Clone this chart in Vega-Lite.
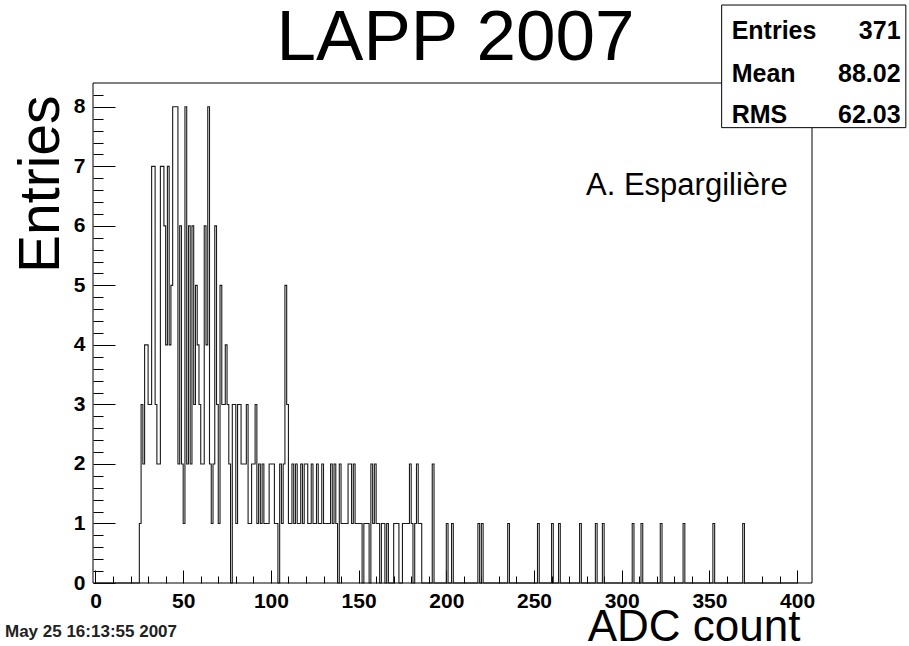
{
  "$schema": "https://vega.github.io/schema/vega-lite/v6.json",
  "width": 719,
  "height": 500,
  "autosize": "none",
  "padding": {"left": 93, "top": 83, "right": 97, "bottom": 63},
  "background": "white",
  "config": {"view": {"stroke": null}, "font": "Liberation Sans"},
  "datasets": {
    "hist": [
      {"adc":0,"n":0},{"adc":1,"n":0},{"adc":2,"n":0},{"adc":3,"n":0},{"adc":4,"n":0},{"adc":5,"n":0},{"adc":6,"n":0},{"adc":7,"n":0},{"adc":8,"n":0},{"adc":9,"n":0},
      {"adc":10,"n":0},{"adc":11,"n":0},{"adc":12,"n":0},{"adc":13,"n":0},{"adc":14,"n":0},{"adc":15,"n":0},{"adc":16,"n":0},{"adc":17,"n":0},{"adc":18,"n":0},{"adc":19,"n":0},
      {"adc":20,"n":0},{"adc":21,"n":0},{"adc":22,"n":0},{"adc":23,"n":0},{"adc":24,"n":0},{"adc":25,"n":1},{"adc":26,"n":3},{"adc":27,"n":2},{"adc":28,"n":4},{"adc":29,"n":4},
      {"adc":30,"n":3},{"adc":31,"n":3},{"adc":32,"n":7},{"adc":33,"n":7},{"adc":34,"n":3},{"adc":35,"n":2},{"adc":36,"n":2},{"adc":37,"n":7},{"adc":38,"n":7},{"adc":39,"n":6},
      {"adc":40,"n":4},{"adc":41,"n":7},{"adc":42,"n":4},{"adc":43,"n":5},{"adc":44,"n":8},{"adc":45,"n":8},{"adc":46,"n":8},{"adc":47,"n":2},{"adc":48,"n":6},{"adc":49,"n":2},
      {"adc":50,"n":1},{"adc":51,"n":8},{"adc":52,"n":2},{"adc":53,"n":6},{"adc":54,"n":2},{"adc":55,"n":6},{"adc":56,"n":3},{"adc":57,"n":5},{"adc":58,"n":4},{"adc":59,"n":3},
      {"adc":60,"n":2},{"adc":61,"n":2},{"adc":62,"n":6},{"adc":63,"n":4},{"adc":64,"n":8},{"adc":65,"n":2},{"adc":66,"n":1},{"adc":67,"n":2},{"adc":68,"n":6},{"adc":69,"n":3},
      {"adc":70,"n":1},{"adc":71,"n":5},{"adc":72,"n":3},{"adc":73,"n":3},{"adc":74,"n":4},{"adc":75,"n":3},{"adc":76,"n":2},{"adc":77,"n":0},{"adc":78,"n":3},{"adc":79,"n":3},
      {"adc":80,"n":1},{"adc":81,"n":3},{"adc":82,"n":3},{"adc":83,"n":2},{"adc":84,"n":2},{"adc":85,"n":2},{"adc":86,"n":3},{"adc":87,"n":1},{"adc":88,"n":1},{"adc":89,"n":2},
      {"adc":90,"n":2},{"adc":91,"n":3},{"adc":92,"n":1},{"adc":93,"n":2},{"adc":94,"n":1},{"adc":95,"n":2},{"adc":96,"n":1},{"adc":97,"n":1},{"adc":98,"n":1},{"adc":99,"n":2},
      {"adc":100,"n":2},{"adc":101,"n":2},{"adc":102,"n":1},{"adc":103,"n":1},{"adc":104,"n":0},{"adc":105,"n":2},{"adc":106,"n":1},{"adc":107,"n":2},{"adc":108,"n":5},{"adc":109,"n":3},
      {"adc":110,"n":1},{"adc":111,"n":1},{"adc":112,"n":2},{"adc":113,"n":1},{"adc":114,"n":2},{"adc":115,"n":1},{"adc":116,"n":1},{"adc":117,"n":2},{"adc":118,"n":1},{"adc":119,"n":2},
      {"adc":120,"n":2},{"adc":121,"n":1},{"adc":122,"n":1},{"adc":123,"n":2},{"adc":124,"n":1},{"adc":125,"n":1},{"adc":126,"n":2},{"adc":127,"n":1},{"adc":128,"n":1},{"adc":129,"n":2},
      {"adc":130,"n":1},{"adc":131,"n":1},{"adc":132,"n":1},{"adc":133,"n":1},{"adc":134,"n":2},{"adc":135,"n":1},{"adc":136,"n":2},{"adc":137,"n":1},{"adc":138,"n":0},{"adc":139,"n":2},
      {"adc":140,"n":1},{"adc":141,"n":1},{"adc":142,"n":1},{"adc":143,"n":1},{"adc":144,"n":2},{"adc":145,"n":2},{"adc":146,"n":1},{"adc":147,"n":2},{"adc":148,"n":1},{"adc":149,"n":1},
      {"adc":150,"n":1},{"adc":151,"n":1},{"adc":152,"n":0},{"adc":153,"n":1},{"adc":154,"n":1},{"adc":155,"n":1},{"adc":156,"n":0},{"adc":157,"n":2},{"adc":158,"n":1},{"adc":159,"n":2},
      {"adc":160,"n":1},{"adc":161,"n":1},{"adc":162,"n":0},{"adc":163,"n":1},{"adc":164,"n":1},{"adc":165,"n":0},{"adc":166,"n":1},{"adc":167,"n":0},{"adc":168,"n":0},{"adc":169,"n":0},
      {"adc":170,"n":1},{"adc":171,"n":1},{"adc":172,"n":1},{"adc":173,"n":0},{"adc":174,"n":0},{"adc":175,"n":1},{"adc":176,"n":1},{"adc":177,"n":1},{"adc":178,"n":1},{"adc":179,"n":2},
      {"adc":180,"n":1},{"adc":181,"n":0},{"adc":182,"n":1},{"adc":183,"n":2},{"adc":184,"n":1},{"adc":185,"n":1},{"adc":186,"n":0},{"adc":187,"n":0},{"adc":188,"n":0},{"adc":189,"n":0},
      {"adc":190,"n":0},{"adc":191,"n":0},{"adc":192,"n":2},{"adc":193,"n":0},{"adc":194,"n":0},{"adc":195,"n":0},{"adc":196,"n":0},{"adc":197,"n":0},{"adc":198,"n":0},{"adc":199,"n":0},
      {"adc":200,"n":1},{"adc":201,"n":0},{"adc":202,"n":0},{"adc":203,"n":1},{"adc":204,"n":0},{"adc":205,"n":0},{"adc":206,"n":0},{"adc":207,"n":0},{"adc":208,"n":0},{"adc":209,"n":0},
      {"adc":210,"n":0},{"adc":211,"n":0},{"adc":212,"n":0},{"adc":213,"n":0},{"adc":214,"n":0},{"adc":215,"n":0},{"adc":216,"n":0},{"adc":217,"n":0},{"adc":218,"n":1},{"adc":219,"n":0},
      {"adc":220,"n":1},{"adc":221,"n":0},{"adc":222,"n":0},{"adc":223,"n":0},{"adc":224,"n":0},{"adc":225,"n":0},{"adc":226,"n":0},{"adc":227,"n":0},{"adc":228,"n":0},{"adc":229,"n":0},
      {"adc":230,"n":0},{"adc":231,"n":0},{"adc":232,"n":0},{"adc":233,"n":0},{"adc":234,"n":0},{"adc":235,"n":1},{"adc":236,"n":0},{"adc":237,"n":0},{"adc":238,"n":0},{"adc":239,"n":0},
      {"adc":240,"n":0},{"adc":241,"n":0},{"adc":242,"n":0},{"adc":243,"n":0},{"adc":244,"n":0},{"adc":245,"n":0},{"adc":246,"n":0},{"adc":247,"n":0},{"adc":248,"n":0},{"adc":249,"n":0},
      {"adc":250,"n":0},{"adc":251,"n":0},{"adc":252,"n":1},{"adc":253,"n":0},{"adc":254,"n":0},{"adc":255,"n":0},{"adc":256,"n":0},{"adc":257,"n":0},{"adc":258,"n":0},{"adc":259,"n":0},
      {"adc":260,"n":1},{"adc":261,"n":0},{"adc":262,"n":0},{"adc":263,"n":0},{"adc":264,"n":1},{"adc":265,"n":0},{"adc":266,"n":0},{"adc":267,"n":0},{"adc":268,"n":0},{"adc":269,"n":0},
      {"adc":270,"n":0},{"adc":271,"n":0},{"adc":272,"n":0},{"adc":273,"n":0},{"adc":274,"n":0},{"adc":275,"n":0},{"adc":276,"n":1},{"adc":277,"n":0},{"adc":278,"n":0},{"adc":279,"n":0},
      {"adc":280,"n":0},{"adc":281,"n":0},{"adc":282,"n":0},{"adc":283,"n":0},{"adc":284,"n":0},{"adc":285,"n":1},{"adc":286,"n":0},{"adc":287,"n":0},{"adc":288,"n":0},{"adc":289,"n":1},
      {"adc":290,"n":0},{"adc":291,"n":0},{"adc":292,"n":0},{"adc":293,"n":0},{"adc":294,"n":0},{"adc":295,"n":0},{"adc":296,"n":0},{"adc":297,"n":0},{"adc":298,"n":0},{"adc":299,"n":0},
      {"adc":300,"n":0},{"adc":301,"n":0},{"adc":302,"n":0},{"adc":303,"n":0},{"adc":304,"n":0},{"adc":305,"n":0},{"adc":306,"n":1},{"adc":307,"n":0},{"adc":308,"n":0},{"adc":309,"n":0},
      {"adc":310,"n":0},{"adc":311,"n":1},{"adc":312,"n":0},{"adc":313,"n":0},{"adc":314,"n":0},{"adc":315,"n":0},{"adc":316,"n":0},{"adc":317,"n":0},{"adc":318,"n":0},{"adc":319,"n":0},
      {"adc":320,"n":0},{"adc":321,"n":0},{"adc":322,"n":1},{"adc":323,"n":0},{"adc":324,"n":0},{"adc":325,"n":0},{"adc":326,"n":0},{"adc":327,"n":0},{"adc":328,"n":0},{"adc":329,"n":0},
      {"adc":330,"n":0},{"adc":331,"n":0},{"adc":332,"n":0},{"adc":333,"n":0},{"adc":334,"n":0},{"adc":335,"n":1},{"adc":336,"n":0},{"adc":337,"n":0},{"adc":338,"n":0},{"adc":339,"n":0},
      {"adc":340,"n":0},{"adc":341,"n":0},{"adc":342,"n":0},{"adc":343,"n":0},{"adc":344,"n":0},{"adc":345,"n":0},{"adc":346,"n":0},{"adc":347,"n":0},{"adc":348,"n":0},{"adc":349,"n":0},
      {"adc":350,"n":0},{"adc":351,"n":0},{"adc":352,"n":1},{"adc":353,"n":0},{"adc":354,"n":0},{"adc":355,"n":0},{"adc":356,"n":0},{"adc":357,"n":0},{"adc":358,"n":0},{"adc":359,"n":0},
      {"adc":360,"n":0},{"adc":361,"n":0},{"adc":362,"n":0},{"adc":363,"n":0},{"adc":364,"n":0},{"adc":365,"n":0},{"adc":366,"n":0},{"adc":367,"n":0},{"adc":368,"n":0},{"adc":369,"n":1},
      {"adc":370,"n":0},{"adc":371,"n":0},{"adc":372,"n":0},{"adc":373,"n":0},{"adc":374,"n":0},{"adc":375,"n":0},{"adc":376,"n":0},{"adc":377,"n":0},{"adc":378,"n":0},{"adc":379,"n":0},
      {"adc":380,"n":0},{"adc":381,"n":0},{"adc":382,"n":0},{"adc":383,"n":0},{"adc":384,"n":0},{"adc":385,"n":0},{"adc":386,"n":0},{"adc":387,"n":0},{"adc":388,"n":0},{"adc":389,"n":0},
      {"adc":390,"n":0},{"adc":391,"n":0},{"adc":392,"n":0},{"adc":393,"n":0},{"adc":394,"n":0},{"adc":395,"n":0},{"adc":396,"n":0},{"adc":397,"n":0},{"adc":398,"n":0},{"adc":399,"n":0},
      {"adc":400,"n":0}
    ],
    "one": [{}]
  },
  "layer": [
    {
      "data": {"name": "one"},
      "mark": {"type": "rect", "fill": null, "fillOpacity": 0, "stroke": "black", "strokeWidth": 1},
      "encoding": {
        "x": {"datum": -1.42, "type": "quantitative", "scale": {"domain": [-1.42, 408.5], "nice": false, "zero": false},
          "axis": {
            "title": "ADC count", "titleFontSize": 44, "titleFont": "Liberation Sans", "titleFontWeight": "normal", "titleColor": "black",
            "titleAnchor": "end", "titleAlign": "right", "titleBaseline": "alphabetic", "titleX": 707, "titleY": 57,
            "tickCount": 1000,
            "values": [0,10,20,30,40,50,60,70,80,90,100,110,120,130,140,150,160,170,180,190,200,210,220,230,240,250,260,270,280,290,300,310,320,330,340,350,360,370,380,390,400],
            "labelExpr": "datum.value % 50 === 0 ? format(datum.value, 'd') : ''",
            "labelFont": "Liberation Sans", "labelFontWeight": "bold", "labelFontSize": 21, "labelColor": "black",
            "labelPadding": 20, "labelFlush": false, "labelOverlap": false,
            "tickColor": "black", "tickWidth": 1,
            "tickSize": {"condition": {"test": "datum.value % 50 === 0", "value": -13}, "value": -7},
            "domain": false, "grid": false
          }},
        "x2": {"datum": 408.5},
        "y": {"datum": 0, "type": "quantitative", "scale": {"domain": [0, 8.4], "nice": false},
          "axis": {
            "title": "Entries", "titleFontSize": 57, "titleFont": "Liberation Sans", "titleFontWeight": "normal", "titleColor": "black",
            "titleAnchor": "end", "titleAlign": "right", "titleAngle": -90, "titleBaseline": "alphabetic", "titleX": -35, "titleY": 12,
            "tickCount": 1000,
            "values": [0,0.2,0.4,0.6,0.8,1,1.2,1.4,1.6,1.8,2,2.2,2.4,2.6,2.8,3,3.2,3.4,3.6,3.8,4,4.2,4.4,4.6,4.8,5,5.2,5.4,5.6,5.8,6,6.2,6.4,6.6,6.8,7,7.2,7.4,7.6,7.8,8,8.2],
            "labelExpr": "round(datum.value) === datum.value ? format(datum.value, 'd') : ''",
            "labelFont": "Liberation Sans", "labelFontWeight": "bold", "labelFontSize": 21, "labelColor": "black",
            "labelAlign": "right",
            "labelPadding": 30, "labelFlush": false, "labelOverlap": false,
            "tickColor": "black", "tickWidth": 1,
            "tickSize": {"condition": {"test": "round(datum.value) === datum.value", "value": -22}, "value": -10},
            "domain": false, "grid": false
          }},
        "y2": {"datum": 8.4}
      }
    },
    {
      "data": {"name": "hist"},
      "mark": {"type": "line", "interpolate": "step-after", "color": "#1a1a1a", "strokeWidth": 1.1},
      "encoding": {
        "x": {"field": "adc", "type": "quantitative"},
        "y": {"field": "n", "type": "quantitative"}
      }
    },
    {
      "data": {"name": "one"},
      "mark": {"type": "rect", "fill": "white", "stroke": "black", "strokeWidth": 1},
      "encoding": {
        "x": {"datum": 357}, "x2": {"datum": 462},
        "y": {"datum": 9.71}, "y2": {"datum": 7.65}
      }
    },
    {
      "data": {"name": "one"},
      "mark": {"type": "text", "align": "center", "baseline": "alphabetic", "font": "Liberation Sans", "fontWeight": "normal", "fontSize": 71, "color": "black"},
      "encoding": {"x": {"datum": 205.3}, "y": {"datum": 8.79}, "text": {"value": "LAPP 2007"}}
    },
    {
      "data": {"name": "one"},
      "mark": {"type": "text", "align": "left", "baseline": "alphabetic", "font": "Liberation Sans", "fontWeight": "bold", "fontSize": 25, "color": "black"},
      "encoding": {"x": {"datum": 362.7}, "y": {"datum": 9.14}, "text": {"value": "Entries"}}
    },
    {
      "data": {"name": "one"},
      "mark": {"type": "text", "align": "left", "baseline": "alphabetic", "font": "Liberation Sans", "fontWeight": "bold", "fontSize": 25, "color": "black"},
      "encoding": {"x": {"datum": 362.7}, "y": {"datum": 8.42}, "text": {"value": "Mean"}}
    },
    {
      "data": {"name": "one"},
      "mark": {"type": "text", "align": "left", "baseline": "alphabetic", "font": "Liberation Sans", "fontWeight": "bold", "fontSize": 25, "color": "black"},
      "encoding": {"x": {"datum": 362.7}, "y": {"datum": 7.73}, "text": {"value": "RMS"}}
    },
    {
      "data": {"name": "one"},
      "mark": {"type": "text", "align": "right", "baseline": "alphabetic", "font": "Liberation Sans", "fontWeight": "bold", "fontSize": 25, "color": "black"},
      "encoding": {"x": {"datum": 459}, "y": {"datum": 9.14}, "text": {"value": "371"}}
    },
    {
      "data": {"name": "one"},
      "mark": {"type": "text", "align": "right", "baseline": "alphabetic", "font": "Liberation Sans", "fontWeight": "bold", "fontSize": 25, "color": "black"},
      "encoding": {"x": {"datum": 459}, "y": {"datum": 8.42}, "text": {"value": "88.02"}}
    },
    {
      "data": {"name": "one"},
      "mark": {"type": "text", "align": "right", "baseline": "alphabetic", "font": "Liberation Sans", "fontWeight": "bold", "fontSize": 25, "color": "black"},
      "encoding": {"x": {"datum": 459}, "y": {"datum": 7.73}, "text": {"value": "62.03"}}
    },
    {
      "data": {"name": "one"},
      "mark": {"type": "text", "align": "right", "baseline": "alphabetic", "font": "Liberation Sans", "fontWeight": "normal", "fontSize": 31, "color": "black"},
      "encoding": {"x": {"datum": 394.6}, "y": {"datum": 6.52}, "text": {"value": "A. Espargilière"}}
    },
    {
      "data": {"name": "one"},
      "mark": {"type": "text", "align": "left", "baseline": "alphabetic", "font": "Liberation Sans", "fontWeight": "bold", "fontSize": 17, "color": "#222"},
      "encoding": {"x": {"datum": -51.6}, "y": {"datum": -0.9}, "text": {"value": "May 25 16:13:55 2007"}}
    }
  ]
}
